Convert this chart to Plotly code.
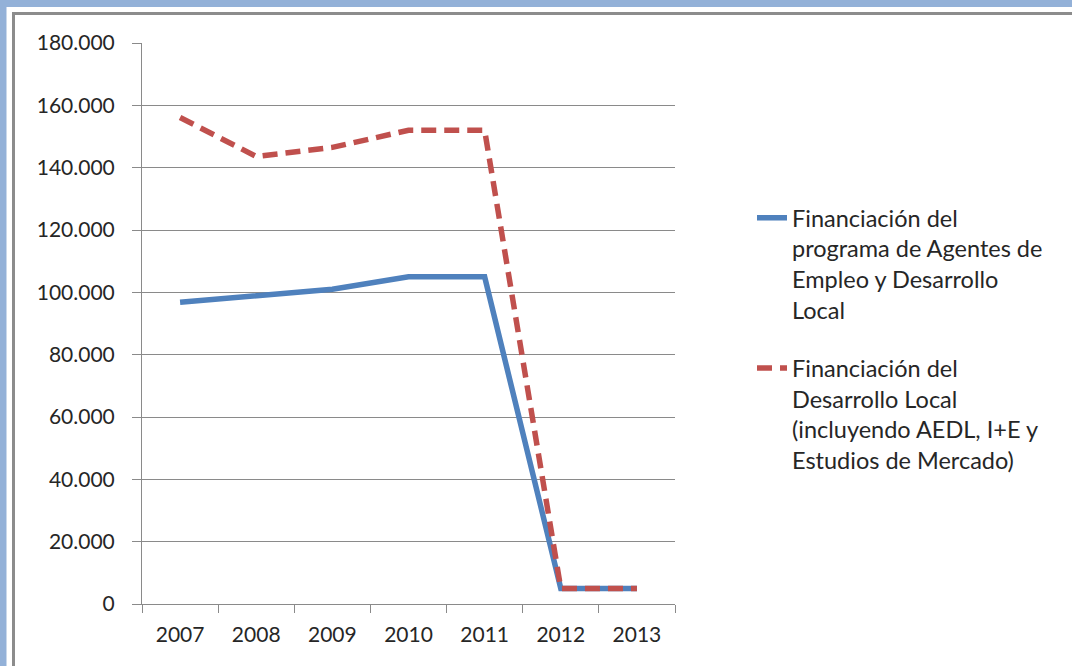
import plotly.graph_objects as go

years = ["2007", "2008", "2009", "2010", "2011", "2012", "2013"]
aedl_values = [96800, 98900, 101000, 105000, 105000, 5000, 5000]
desarrollo_values = [156100, 143600, 146500, 152000, 152000, 5000, 5000]
series_names = [
    "Financiación del<br>programa de Agentes de<br>Empleo y Desarrollo<br>Local",
    "Financiación del<br>Desarrollo Local<br>(incluyendo AEDL, I+E y<br>Estudios de Mercado)",
]
y_ticks = [0, 20000, 40000, 60000, 80000, 100000, 120000, 140000, 160000, 180000]

W, H = 1072, 666
L, R, T, B = 142, 397, 43, 62
PW, PH = W - L - R, H - T - B


def px(x):
    return (x - L) / PW


def py(y):
    return (H - B - y) / PH


FONT = "Lato, Calibri, sans-serif"
TXT = "#262626"
GRID = "#8a8a8a"

fig = go.Figure()
fig.add_trace(go.Scatter(
    x=years, y=aedl_values, mode="lines", name=series_names[0],
    line=dict(color="#4f81bd", width=5.5), legendgroup="a",
))
fig.add_trace(go.Scatter(
    x=years, y=desarrollo_values, mode="lines", name=series_names[1],
    line=dict(color="#c0504d", width=5.5, dash="15px,8px"), legendgroup="b",
))

shapes = [
    # light blue outer frame
    dict(type="rect", xref="paper", yref="paper", x0=px(0), x1=px(6.5), y0=py(0), y1=py(H),
         fillcolor="#93b1d8", line_width=0, layer="below"),
    dict(type="rect", xref="paper", yref="paper", x0=px(0), x1=px(W), y0=py(0), y1=py(7),
         fillcolor="#93b1d8", line_width=0, layer="below"),
    # gray inner border
    dict(type="rect", xref="paper", yref="paper", x0=px(12), x1=px(15), y0=py(12), y1=py(H),
         fillcolor="#8c8c8c", line_width=0, layer="below"),
    dict(type="rect", xref="paper", yref="paper", x0=px(12), x1=px(W), y0=py(12), y1=py(15),
         fillcolor="#8c8c8c", line_width=0, layer="below"),
]

fig.update_layout(
    width=W, height=H,
    margin=dict(l=L, r=R, t=T, b=B, pad=0),
    paper_bgcolor="white", plot_bgcolor="white",
    separators=",.",
    font=dict(family=FONT, size=21, color=TXT),
    shapes=shapes,
    showlegend=True,
    legend=dict(
        x=px(752), y=py(196), xanchor="left", yanchor="top",
        font=dict(family=FONT, size=23.5, color=TXT),
        valign="top", traceorder="grouped", tracegroupgap=25,
        bgcolor="rgba(0,0,0,0)", borderwidth=0,
    ),
    xaxis=dict(
        type="category", range=[-0.5, 6.5],
        tickson="boundaries", ticks="outside", ticklen=8, tickcolor=GRID, tickwidth=1,
        showline=True, linecolor=GRID, linewidth=1,
        showgrid=False, zeroline=False,
        tickfont=dict(family=FONT, size=21, color=TXT),
        ticklabelstandoff=12,
    ),
    yaxis=dict(
        range=[0, 180000], tickvals=y_ticks, tickformat=",d",
        ticks="outside", ticklen=9, tickcolor=GRID, tickwidth=1,
        showline=True, linecolor=GRID, linewidth=1,
        showgrid=True, gridcolor=GRID, gridwidth=1,
        zeroline=False,
        tickfont=dict(family=FONT, size=21, color=TXT),
        ticklabelstandoff=13,
    ),
)

fig.write_html("out.html")
